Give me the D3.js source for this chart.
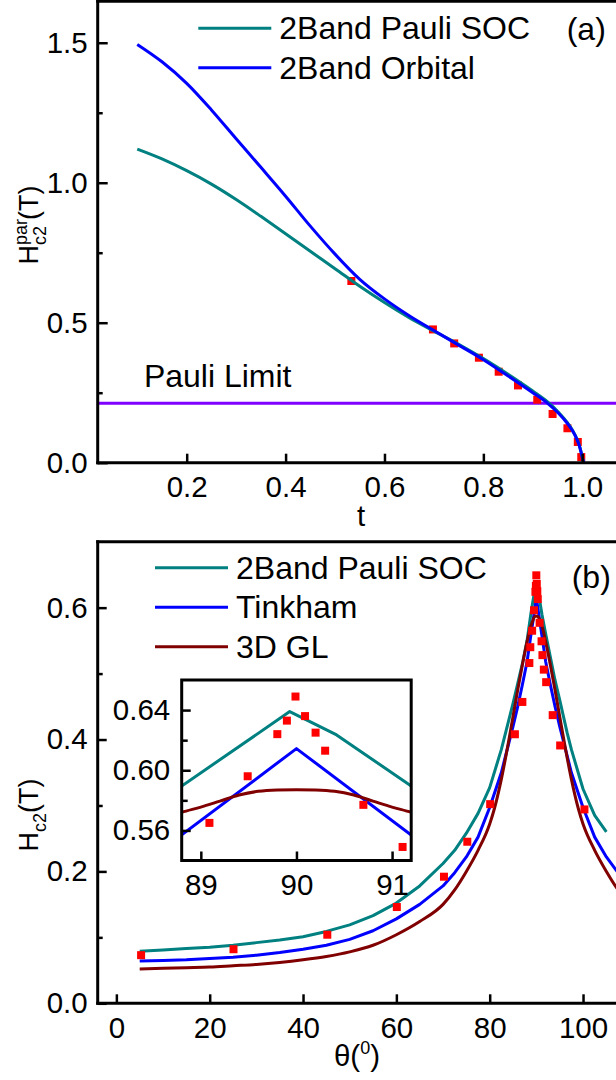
<!DOCTYPE html>
<html>
<head>
<meta charset="utf-8">
<script src="https://cdn.jsdelivr.net/npm/d3@7"></script>
<style>
  body { margin: 0; background: #fff; }
  svg text { font-family: "Liberation Sans", Arial, sans-serif; fill: #000; }
</style>
</head>
<body>
<svg id="chart" width="616" height="1080"></svg>
<script>
// ---- panel (a): Hc2 parallel vs reduced temperature t ----
var tPoints = [0.533, 0.698, 0.741, 0.791, 0.831, 0.870, 0.909, 0.940, 0.970, 0.991, 0.998];
var hPoints = [0.649, 0.476, 0.426, 0.375, 0.325, 0.276, 0.225, 0.174, 0.123, 0.074, 0.020];

var tFit = [0.10, 0.15, 0.20, 0.25, 0.30, 0.35, 0.40, 0.45, 0.50, 0.55, 0.60, 0.65, 0.70,
            0.75, 0.80, 0.85, 0.90, 0.93, 0.95, 0.97, 0.98, 0.99, 0.995, 1.0, 1.003];
var socFit = [1.12, 1.085, 1.043, 0.995, 0.94, 0.88, 0.818, 0.755, 0.693, 0.63, 0.572, 0.518, 0.47,
              0.423, 0.372, 0.316, 0.256, 0.217, 0.184, 0.143, 0.117, 0.082, 0.056, 0.021, 0.0];
var orbitalFit = [1.494, 1.432, 1.355, 1.26, 1.157, 1.055, 0.952, 0.845, 0.745, 0.655, 0.585, 0.525, 0.472,
                  0.42, 0.368, 0.31, 0.25, 0.212, 0.18, 0.14, 0.115, 0.08, 0.055, 0.02, 0.0];
var pauliLimit = 0.212;
var legendA = ["2Band Pauli SOC", "2Band Orbital"];

// ---- panel (b): Hc2 vs angle theta ----
var thetaPoints = [5.3, 25.1, 45.2, 60.1, 70.2, 75.2, 80.1, 85.4, 87.0, 88.5, 88.7, 89.09, 89.49, 89.8,
                   89.9, 89.99, 90.09, 90.2, 90.3, 90.7, 91.11, 91.3, 91.6, 92.1, 93.5, 95.1, 100.3];
var hcPoints = [0.073, 0.082, 0.104, 0.146, 0.192, 0.245, 0.302, 0.408, 0.457, 0.516, 0.540, 0.565, 0.596, 0.624,
                0.633, 0.649, 0.636, 0.625, 0.613, 0.577, 0.549, 0.528, 0.506, 0.487, 0.437, 0.391, 0.294];

var socTheta = [5, 10, 15, 20, 25, 30, 35, 40, 45, 50, 55, 60, 65, 70, 72.5, 75, 77.5, 80, 82.5, 85,
                86, 87, 88, 88.8, 89.93, 90.42, 91.2, 92, 93, 94, 95, 96.6, 97.5, 100, 102.5, 105];
var socH = [0.079, 0.081, 0.083, 0.085, 0.088, 0.092, 0.096, 0.101, 0.109, 0.119, 0.133, 0.152, 0.178, 0.212, 0.232, 0.258, 0.288, 0.327, 0.385, 0.455,
            0.485, 0.515, 0.55, 0.5895, 0.639, 0.6235, 0.5895, 0.56, 0.525, 0.49, 0.46, 0.41, 0.385, 0.325, 0.285, 0.26];

var tinkTheta = [5, 10, 15, 20, 25, 30, 35, 40, 45, 50, 55, 60, 65, 70, 72.5, 75, 77.5, 80, 82.5, 85,
                 86, 87, 88, 88.8, 90, 91.2, 92, 93, 94, 95, 97.5, 100, 102.5, 105, 107.5, 110];
var tinkH = [0.064, 0.065, 0.066, 0.068, 0.070, 0.073, 0.077, 0.082, 0.088, 0.097, 0.110, 0.128, 0.150, 0.178, 0.198, 0.222, 0.252, 0.297, 0.35, 0.42,
             0.45, 0.483, 0.518, 0.557, 0.6144, 0.557, 0.518, 0.483, 0.45, 0.42, 0.35, 0.297, 0.252, 0.222, 0.198, 0.178];

var glTheta = [5, 10, 15, 20, 25, 30, 35, 40, 45, 50, 55, 60, 65, 70, 72.5, 75, 77.5, 80, 81, 82.5,
               84, 85, 86, 87, 88, 88.8, 89, 89.2, 89.4, 89.6, 89.8, 90, 90.2, 90.4, 90.6, 90.8, 91, 91.2, 92, 93,
               94, 95, 96, 97.5, 99, 100, 102.5, 105, 107.5, 110];
var glH = [0.052, 0.053, 0.054, 0.055, 0.057, 0.059, 0.062, 0.066, 0.071, 0.078, 0.088, 0.104, 0.124, 0.150, 0.172, 0.200, 0.232, 0.272, 0.295, 0.34,
           0.395, 0.435, 0.475, 0.513, 0.548, 0.572, 0.5755, 0.5795, 0.5835, 0.586, 0.5869, 0.5871, 0.5869, 0.586, 0.5835, 0.5795, 0.5755, 0.572, 0.548, 0.513,
           0.475, 0.435, 0.395, 0.34, 0.295, 0.272, 0.232, 0.200, 0.172, 0.150];
var legendB = ["2Band Pauli SOC", "Tinkham", "3D GL"];

var TEAL = "#008080", BLUE = "#0000ff", DARKRED = "#800000", PURPLE = "#8000ff", RED = "#ff0000";
var TICK_FONT = 29.5, LEGEND_FONT = 32;

var svg = d3.select("#chart");

function zip(xs, ys) {
    return xs.map(function (x, i) { return [x, ys[i]]; });
}

// axis helpers (ticks point inward like the Origin plot)
function xAxis(scale, y0, values, size, fmt) {
    svg.append("g")
        .attr("transform", "translate(0," + y0 + ")")
        .call(d3.axisBottom(scale).tickValues(values).tickSize(-size).tickPadding(13.5).tickFormat(fmt || ""))
        .call(styleAxis);
}

function yAxis(scale, x0, values, size, fmt, pad) {
    svg.append("g")
        .attr("transform", "translate(" + x0 + ",0)")
        .call(d3.axisLeft(scale).tickValues(values).tickSize(-size).tickPadding(pad || 10).tickFormat(fmt || ""))
        .call(styleAxis);
}

function styleAxis(g) {
    g.select(".domain").remove();
    g.selectAll(".tick line").attr("stroke", "#000").attr("stroke-width", 2.5);
    g.selectAll(".tick text").attr("font-size", TICK_FONT).attr("font-family", '"Liberation Sans", Arial, sans-serif');
}

function frameLine(x1, y1, x2, y2) {
    svg.append("line")
        .attr("x1", x1).attr("y1", y1).attr("x2", x2).attr("y2", y2)
        .attr("stroke", "#000").attr("stroke-width", 3).attr("stroke-linecap", "square");
}

function drawSquares(g, pts, xs, ys) {
    g.selectAll(null).data(pts).enter().append("rect")
        .attr("x", function (d) { return xs(d[0]) - 4; })
        .attr("y", function (d) { return ys(d[1]) - 4; })
        .attr("width", 8).attr("height", 8)
        .attr("fill", RED);
}

function drawCurve(g, pts, xs, ys, color, curve) {
    g.append("path")
        .datum(pts)
        .attr("fill", "none")
        .attr("stroke", color)
        .attr("stroke-width", 3)
        .attr("stroke-linejoin", "round")
        .attr("d", d3.line().x(function (d) { return xs(d[0]); }).y(function (d) { return ys(d[1]); }).curve(curve || d3.curveLinear));
}

function legend(items, colors, x0, y0, step) {
    items.forEach(function (name, i) {
        var y = y0 + i * step;
        svg.append("line").attr("x1", x0).attr("x2", x0 + 73).attr("y1", y).attr("y2", y)
            .attr("stroke", colors[i]).attr("stroke-width", 3);
        svg.append("text").attr("x", x0 + 81).attr("y", y + 11).attr("font-size", LEGEND_FONT).text(name);
    });
}

// ================= panel (a) =================
var xa = d3.scaleLinear().domain([0.02, 1.1]).range([97.7, 631.7]);
var ya = d3.scaleLinear().domain([0, 1.648]).range([462.7, 1.3]);

var ga = svg.append("g");

// Pauli limit line
ga.append("line")
    .attr("x1", xa.range()[0]).attr("x2", xa.range()[1])
    .attr("y1", ya(pauliLimit)).attr("y2", ya(pauliLimit))
    .attr("stroke", PURPLE).attr("stroke-width", 3);

drawSquares(ga, zip(tPoints, hPoints), xa, ya);
drawCurve(ga, zip(tFit, socFit), xa, ya, TEAL, d3.curveMonotoneX);
drawCurve(ga, zip(tFit, orbitalFit), xa, ya, BLUE, d3.curveMonotoneX);

xAxis(xa, ya.range()[0], [0.2, 0.4, 0.6, 0.8, 1.0], 9, d3.format(".1f"));
yAxis(ya, xa.range()[0], [0, 0.5, 1.0, 1.5], 10, d3.format(".1f"));
yAxis(ya, xa.range()[0], [0.25, 0.75, 1.25], 5);
frameLine(xa.range()[0], ya.range()[0], xa.range()[1], ya.range()[0]);
frameLine(xa.range()[0], ya.range()[0], xa.range()[0], ya.range()[1]);
frameLine(xa.range()[0], ya.range()[1], xa.range()[1], ya.range()[1]);
frameLine(xa.range()[1], ya.range()[0], xa.range()[1], ya.range()[1]);

svg.append("text").attr("x", 143.9).attr("y", 386.7).attr("font-size", LEGEND_FONT).text("Pauli Limit");
svg.append("text").attr("x", 566.7).attr("y", 39.5).attr("font-size", LEGEND_FONT).text("(a)");
legend(legendA, [TEAL, BLUE], 198.3, 28.3, 39.4);

// axis titles (a)
svg.append("text").attr("x", 361).attr("y", 526).attr("font-size", TICK_FONT).attr("text-anchor", "middle").text("t");
var ytA = svg.append("text")
    .attr("transform", "translate(38,225) rotate(-90)")
    .attr("text-anchor", "middle").attr("font-size", 27);
ytA.append("tspan").text("H");
ytA.append("tspan").attr("font-size", 18).attr("dy", -11).text("par");
ytA.append("tspan").attr("font-size", 18).attr("dx", -26).attr("dy", 19).text("c2");
ytA.append("tspan").attr("dx", 6).attr("dy", -8).text("(T)");

// ================= panel (b) =================
var xb = d3.scaleLinear().domain([-4, 110]).range([97.7, 629.7]);
var yb = d3.scaleLinear().domain([0, 0.7]).range([1003.3, 541.7]);

var gb = svg.append("g");
drawCurve(gb, zip(socTheta, socH), xb, yb, TEAL);
drawCurve(gb, zip(tinkTheta, tinkH), xb, yb, BLUE);
drawCurve(gb, zip(glTheta, glH), xb, yb, DARKRED, d3.curveMonotoneX);
drawSquares(gb, zip(thetaPoints, hcPoints), xb, yb);

xAxis(xb, yb.range()[0], [0, 20, 40, 60, 80, 100], 9, d3.format("d"));
yAxis(yb, xb.range()[0], [0, 0.2, 0.4, 0.6], 9, d3.format(".1f"));
yAxis(yb, xb.range()[0], [0.1, 0.3, 0.5], 5);
frameLine(xb.range()[0], yb.range()[0], xb.range()[1], yb.range()[0]);
frameLine(xb.range()[0], yb.range()[0], xb.range()[0], yb.range()[1]);
frameLine(xb.range()[0], yb.range()[1], xb.range()[1], yb.range()[1]);
frameLine(xb.range()[1], yb.range()[0], xb.range()[1], yb.range()[1]);

svg.append("text").attr("x", 571.7).attr("y", 588).attr("font-size", LEGEND_FONT).text("(b)");
legend(legendB, [TEAL, BLUE, DARKRED], 155, 567.7, 39.5);

var xtB = svg.append("text").attr("x", 357).attr("y", 1066).attr("font-size", TICK_FONT).attr("text-anchor", "middle");
xtB.append("tspan").text("\u03b8(");
xtB.append("tspan").attr("font-size", 18).attr("dy", -12).text("0");
xtB.append("tspan").attr("dy", 12).text(")");

var ytB = svg.append("text")
    .attr("transform", "translate(38,815) rotate(-90)")
    .attr("text-anchor", "middle").attr("font-size", 27);
ytB.append("tspan").text("H");
ytB.append("tspan").attr("font-size", 18).attr("dy", 8).text("c2");
ytB.append("tspan").attr("dy", -8).text("(T)");

// ---- inset: zoom on the peak ----
var xi = d3.scaleLinear().domain([88.8, 91.2]).range([181.7, 411.2]);
var yi = d3.scaleLinear().domain([0.54, 0.66]).range([860.5, 680]);

svg.append("rect")
    .attr("x", xi.range()[0]).attr("y", yi.range()[1])
    .attr("width", xi.range()[1] - xi.range()[0]).attr("height", yi.range()[0] - yi.range()[1])
    .attr("fill", "#fff");

svg.append("clipPath").attr("id", "insetClip").append("rect")
    .attr("x", xi.range()[0]).attr("y", yi.range()[1])
    .attr("width", xi.range()[1] - xi.range()[0]).attr("height", yi.range()[0] - yi.range()[1]);

var gi = svg.append("g").attr("clip-path", "url(#insetClip)");
drawCurve(gi, zip(socTheta, socH), xi, yi, TEAL);
drawCurve(gi, zip(tinkTheta, tinkH), xi, yi, BLUE);
drawCurve(gi, zip(glTheta, glH), xi, yi, DARKRED, d3.curveMonotoneX);
drawSquares(gi, zip(thetaPoints, hcPoints), xi, yi);

xAxis(xi, yi.range()[0], [89, 90, 91], 9, d3.format("d"));
yAxis(yi, xi.range()[0], [0.56, 0.60, 0.64], 9, d3.format(".2f"), 11.5);
yAxis(yi, xi.range()[0], [0.58, 0.62], 6);

svg.append("rect")
    .attr("x", xi.range()[0]).attr("y", yi.range()[1])
    .attr("width", xi.range()[1] - xi.range()[0]).attr("height", yi.range()[0] - yi.range()[1])
    .attr("fill", "none").attr("stroke", "#000").attr("stroke-width", 3);
</script>
</body>
</html>
